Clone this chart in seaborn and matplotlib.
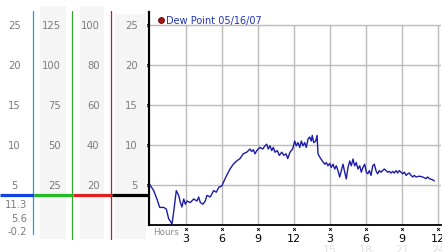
import matplotlib
matplotlib.use("Agg")
import matplotlib.pyplot as plt
import seaborn as sns
import pandas as pd
from matplotlib.patches import Rectangle
from matplotlib.transforms import blended_transform_factory

# ---------------- data ----------------
hours = [0.0, 0.35, 0.62, 0.85, 1.18, 1.40, 1.60, 1.73, 1.87, 2.01,
         2.23, 2.43, 2.56, 2.70, 2.85, 2.98, 3.12, 3.39, 3.68, 3.95,
         4.09, 4.23, 4.45, 4.64, 4.78, 5.06, 5.34, 5.56, 5.76, 6.03,
         6.14, 6.42, 6.70, 6.97, 7.25, 7.53, 7.80, 8.09, 8.36, 8.50,
         8.64, 8.78, 8.92, 9.19, 9.42, 9.61, 9.75, 9.88, 10.02, 10.17,
         10.30, 10.44, 10.63, 10.80, 11.00, 11.19, 11.36, 11.50, 11.69, 11.91,
         12.08, 12.21, 12.35, 12.50, 12.63, 12.77, 12.91, 13.04, 13.19, 13.33,
         13.46, 13.54, 13.66, 13.83, 13.94, 14.02, 14.16, 14.38, 14.58, 14.71,
         14.85, 14.99, 15.12, 15.27, 15.41, 15.54, 15.68, 15.82, 15.96, 16.10,
         16.24, 16.37, 16.51, 16.66, 16.79, 16.93, 17.07, 17.20, 17.34, 17.49,
         17.62, 17.76, 17.90, 18.04,
         18.15, 18.29, 18.43, 18.57, 18.70, 18.84, 18.98, 19.12, 19.26, 19.53,
         19.68, 19.82, 19.95, 20.09, 20.23, 20.37, 20.51, 20.65, 20.78, 20.92,
         21.06, 21.20, 21.35, 21.48, 21.62, 21.76, 21.90, 22.03, 22.17, 22.45,
         22.73, 23.00, 23.14, 23.28, 23.56, 23.69]
dew_point = [5.1, 4.3, 3.25, 2.2, 2.2, 2.0, 0.75, 0.5, 0.1, 1.6,
             4.3, 3.7, 2.85, 2.25, 3.25, 2.6, 3.0, 2.8, 3.25, 3.0,
             3.5, 2.8, 2.6, 3.0, 3.7, 3.5, 4.3, 4.1, 4.7, 4.9,
             5.3, 6.2, 7.0, 7.6, 8.0, 8.3, 8.9, 9.1, 9.5, 9.2,
             9.4, 8.9, 9.3, 9.7, 9.5, 9.9, 10.1, 9.5, 9.9, 9.3,
             9.7, 9.1, 9.3, 8.7, 9.1, 8.7, 8.9, 8.3, 9.1, 9.5,
             10.5, 9.9, 10.3, 9.7, 10.5, 9.9, 10.3, 9.7, 10.75, 11.0,
             10.5, 11.2, 10.3, 10.5, 11.2, 8.9, 8.5, 8.0, 7.6, 7.8,
             7.4, 7.7, 7.2, 7.6, 7.0, 7.4, 6.8, 6.0, 6.8, 7.6,
             6.6, 5.75, 7.2, 8.0, 7.4, 8.25, 7.4, 7.8, 7.0, 7.4,
             6.6, 7.2, 7.6, 6.6,
             6.4, 6.8, 6.2, 7.4, 7.6, 6.8, 6.4, 6.8, 6.6, 7.0,
             6.8, 6.6, 6.7, 6.5, 6.7, 6.5, 6.8, 6.5, 6.8, 6.6,
             6.4, 6.6, 6.2, 6.4, 6.5, 6.2, 6.0, 6.2, 6.0, 6.1,
             6.0, 5.8, 6.0, 5.8, 5.65, 5.5]
series_label = "Dew Point 05/16/07"

hour_ticks = [3, 6, 9, 12, 15, 18, 21, 24]
hour_labels = ["3", "6", "9", "12", "3", "6", "9", "12"]
faint_ticks = [15, 18, 21, 24]
faint_labels = ["15", "18", "21", "24"]

dew_ticks = [5, 10, 15, 20, 25]
scale_a = ["5", "10", "15", "20", "25"]
scale_b = ["25", "50", "75", "100", "125"]
scale_c = ["20", "40", "60", "80", "100"]
scale_d = ["5", "10", "15", "20", "25"]
lower_labels = ["11.3", "5.6", "-0.2"]

df = pd.DataFrame({"hour": hours, "dew": dew_point})

# ---------------- figure ----------------
sns.set_style("white")
plt.rcParams["font.family"] = ["DejaVu Sans"]

W, H = 442, 253
fig = plt.figure(figsize=(W / 100, H / 100), dpi=100)
fig.patch.set_facecolor("white")


def fax(l, t, r, b):
    return [l / W, (H - b) / H, (r - l) / W, (b - t) / H]


bg = fig.add_axes([0, 0, 1, 1])
bg.set_xlim(0, W)
bg.set_ylim(H, 0)
bg.axis("off")

ax = fig.add_axes(fax(149, 13, 441, 226))
ax.set_xlim(-0.04, 24.25)
ax.set_ylim(0, 26.625)
ax.patch.set_alpha(0)

# shaded label columns
col_grey = "#f5f5f5"
bg.add_patch(Rectangle((40, 7), 26, 233, color=col_grey, lw=0, zorder=0))
bg.add_patch(Rectangle((80, 7), 24, 233, color=col_grey, lw=0, zorder=0))
bg.add_patch(Rectangle((115, 15), 31, 225, color=col_grey, lw=0, zorder=0))

# coloured scale lines
bg.plot([33, 33], [12, 235], color="#2a98d4", lw=0.9, zorder=2)
bg.plot([72, 72], [12, 240], color="#2ea62e", lw=0.9, zorder=2)
bg.plot([111, 111], [12, 240], color="#b02424", lw=0.9, zorder=2)
bg.plot([0, 34], [196, 196], color="#1044dc", lw=2.3, zorder=3, solid_capstyle="butt")
bg.plot([34, 73], [196, 196], color="#22bb22", lw=2.3, zorder=3, solid_capstyle="butt")
bg.plot([73, 112], [196, 196], color="#e02020", lw=2.3, zorder=3, solid_capstyle="butt")
bg.plot([112, 149], [196, 196], color="#000000", lw=2.3, zorder=3, solid_capstyle="butt")

# left scale labels
lab_col = "#7c7c7c"
fs = 7.2
trans = blended_transform_factory(bg.transData, ax.transData)
for v, a, b, c, d in zip(dew_ticks, scale_a, scale_b, scale_c, scale_d):
    bg.text(14.6, v, a, transform=trans, ha="center", va="center", fontsize=fs, color=lab_col)
    bg.text(61, v, b, transform=trans, ha="right", va="center", fontsize=fs, color=lab_col)
    bg.text(99.5, v, c, transform=trans, ha="right", va="center", fontsize=fs, color=lab_col)
    bg.text(137.5, v, d, transform=trans, ha="right", va="center", fontsize=fs, color=lab_col)
for ypix, lab in zip([205, 219, 232], lower_labels):
    bg.text(27, ypix, lab, ha="right", va="center", fontsize=fs, color=lab_col)

# grid
grid_col = "#bababa"
ax.hlines(dew_ticks, -0.04, 24.25, color=grid_col, lw=1.0, zorder=1)
ax.vlines(hour_ticks, 0, 25, color=grid_col, lw=1.0, zorder=1)

# series
sns.lineplot(data=df, x="hour", y="dew", ax=ax, color="#1c1cab", linewidth=1.0,
             estimator=None, legend=False, zorder=3)

# spines / ticks
for s in ["top", "right"]:
    ax.spines[s].set_visible(False)
ax.spines["left"].set_color("black")
ax.spines["left"].set_linewidth(1.6)
ax.spines["bottom"].set_color("black")
ax.spines["bottom"].set_linewidth(1.3)
ax.set_xticks([])
ax.set_yticks([])
ax.set_xlabel("")
ax.set_ylabel("")

# small tick marks
ax.scatter(hour_ticks, [-0.55] * len(hour_ticks), marker="x", s=4, c="black",
           linewidths=0.6, clip_on=False, zorder=4)
ax.scatter([-0.15] * len(dew_ticks), dew_ticks, marker="x", s=4, c="black",
           linewidths=0.6, clip_on=False, zorder=4)

# x labels
for h, lab in zip(faint_ticks, faint_labels):
    ax.text(h, -3.0, lab, ha="center", va="center", fontsize=8, color="#e0e0e0", clip_on=False)
for h, lab in zip(hour_ticks, hour_labels):
    ax.text(h, -1.62, lab, ha="center", va="center", fontsize=8, color="black", clip_on=False)
ax.text(1.37, -0.78, "Hours", ha="center", va="center", fontsize=6.3, color="#8c8c8c", clip_on=False)

# legend
ax.scatter([0.96], [25.66], marker="o", s=18, c="#a81414", edgecolors="#5a0000",
           linewidths=0.6, clip_on=False, zorder=5)
ax.text(1.37, 25.66, series_label, ha="left", va="center", fontsize=7, color="#2234b4", clip_on=False)

fig.savefig("out.png", dpi=100, facecolor="white")
